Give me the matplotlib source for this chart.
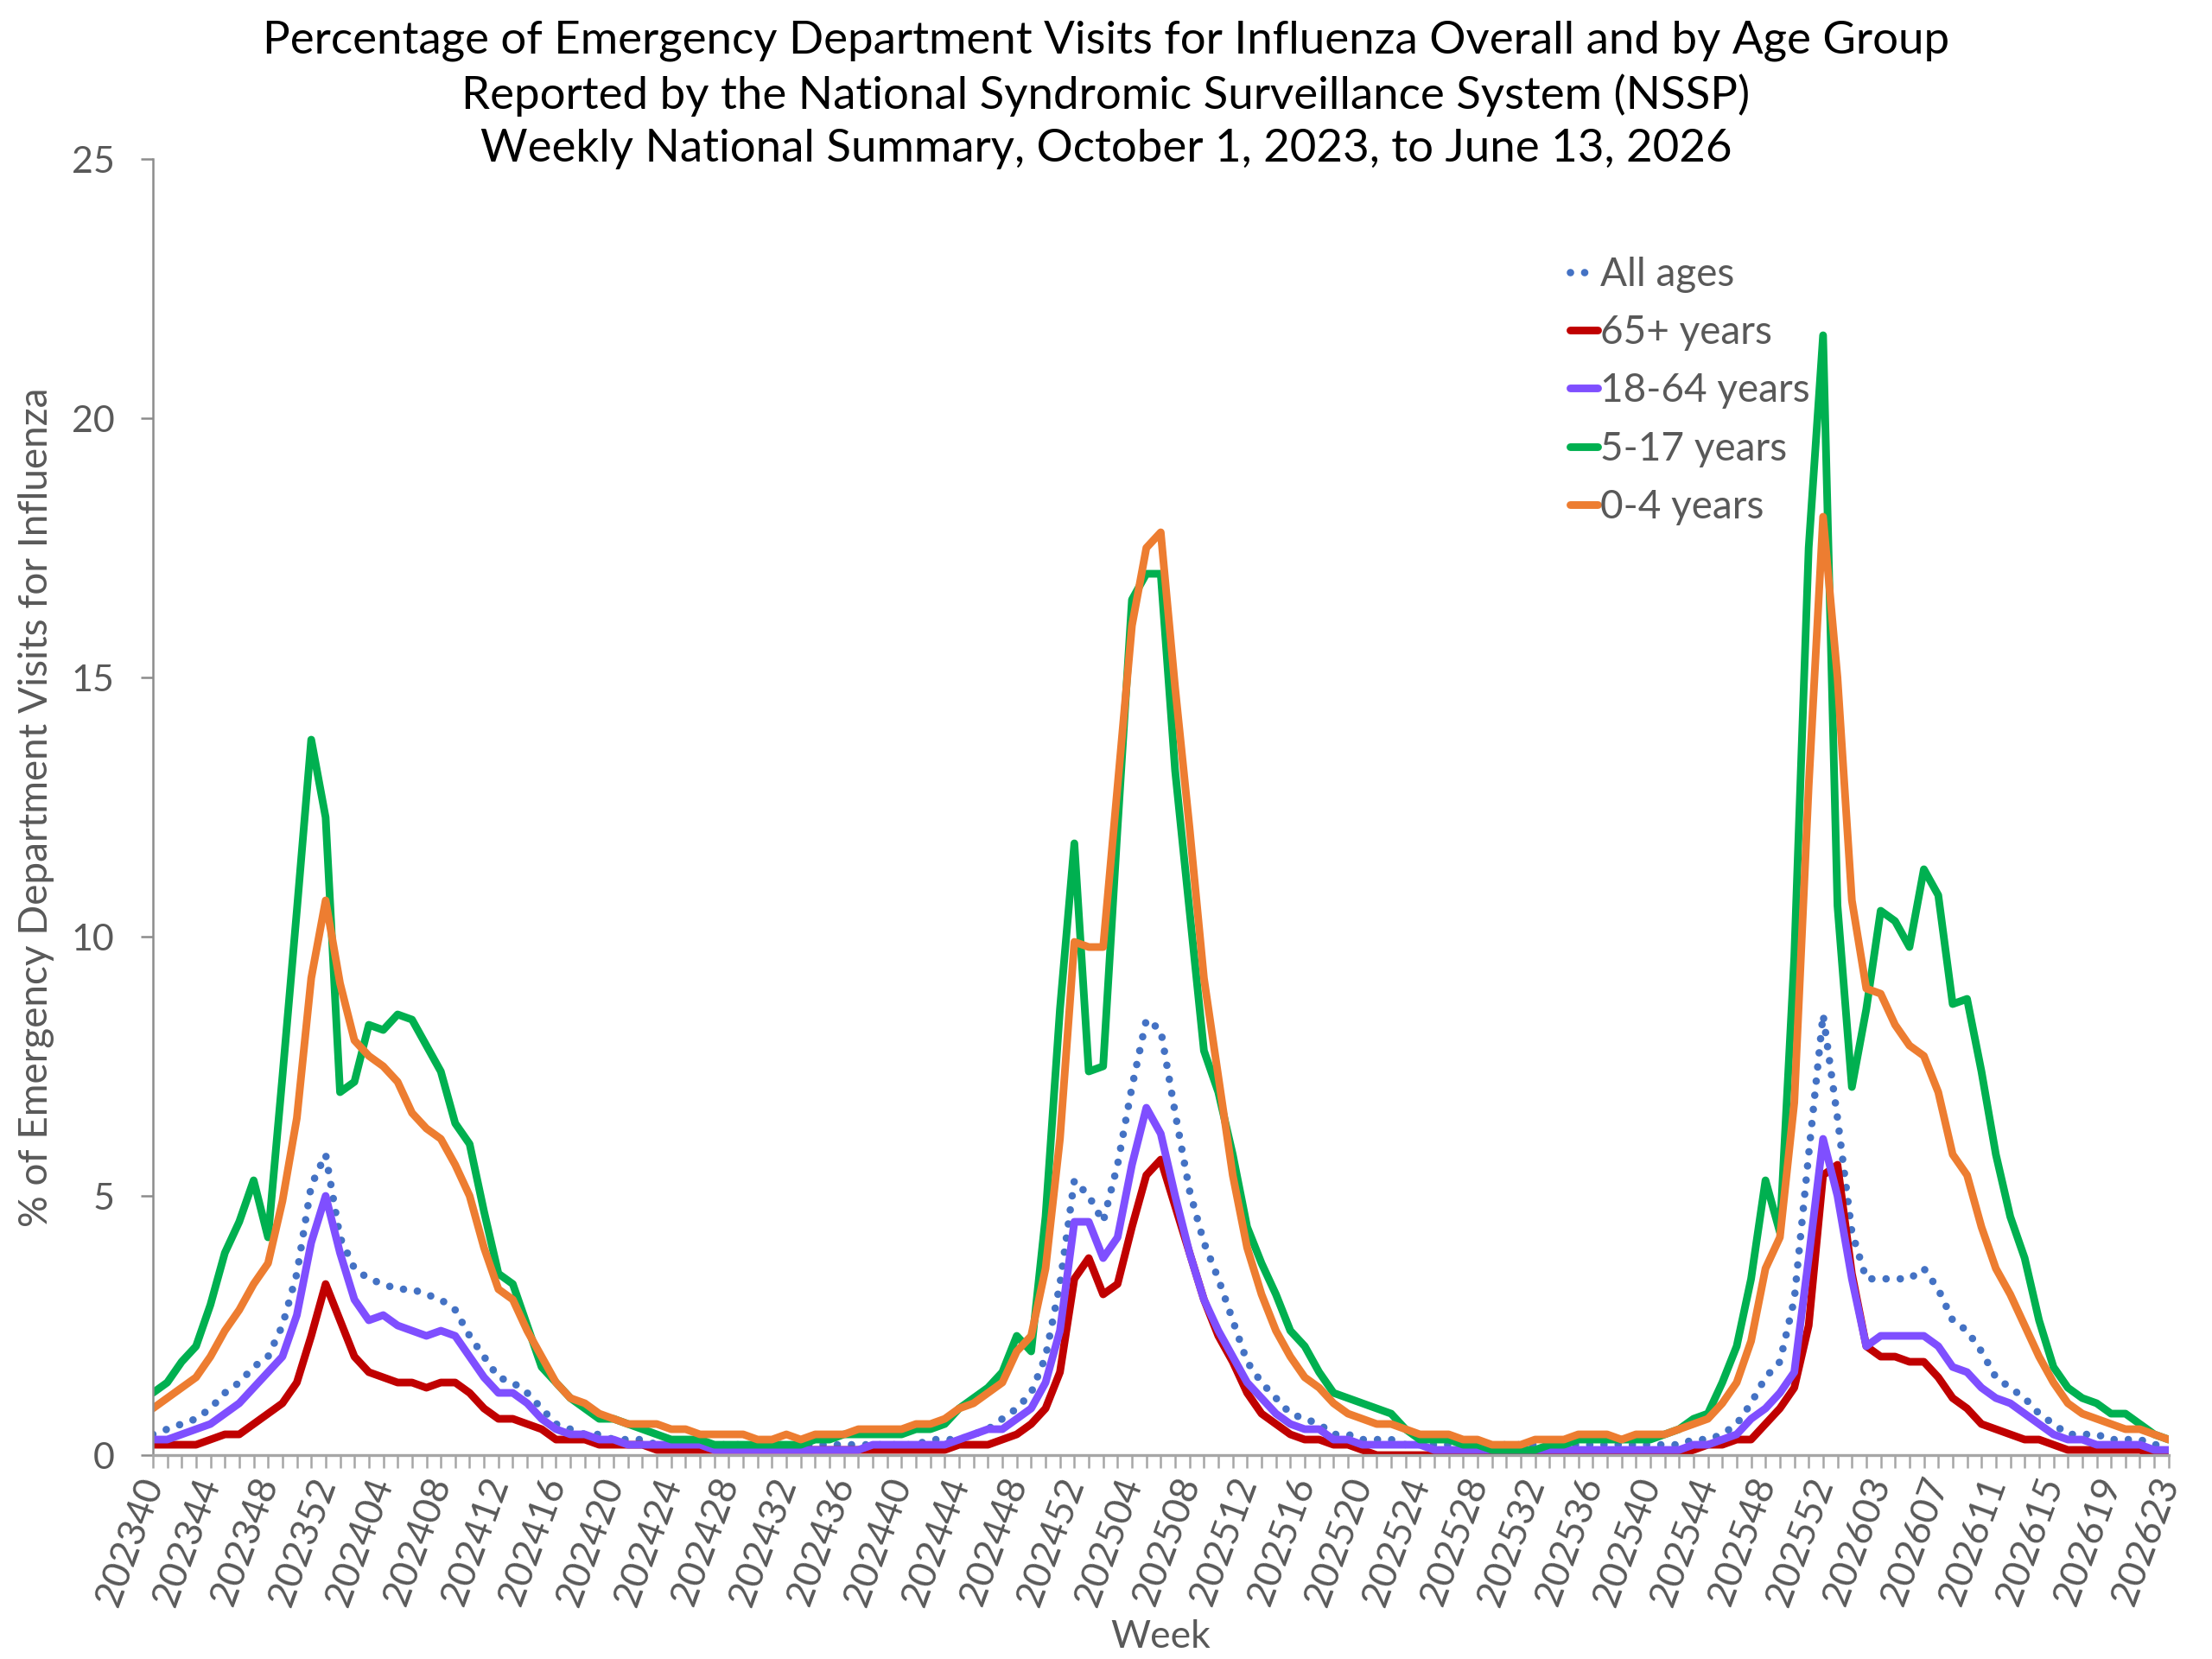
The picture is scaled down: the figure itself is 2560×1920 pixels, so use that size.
import matplotlib
matplotlib.use("Agg")
import matplotlib.pyplot as plt
from matplotlib.ticker import MultipleLocator
import numpy as np

plt.rcParams['font.family'] = ['Lato', 'DejaVu Sans']

# MMWR weeks shown on the category axis (2025 has 53 weeks)
season_years = [2023, 2024, 2025, 2026]
first_week = [40, 1, 1, 1]
last_week = [52, 52, 53, 23]
weeks = [f"{y}{w:02d}" for y, a, b in zip(season_years, first_week, last_week)
         for w in range(a, b + 1)]

all_ages = [0.4, 0.5, 0.6, 0.7, 0.9, 1.2, 1.4, 1.7, 1.9, 2.5, 3.5, 5.2, 5.8,
            4.2, 3.6, 3.4, 3.3, 3.2, 3.2, 3.1, 3.0, 2.8, 2.3, 1.9, 1.5, 1.4, 1.2,
            0.9, 0.6, 0.5, 0.4, 0.4, 0.3, 0.3, 0.3, 0.2, 0.2, 0.2, 0.2, 0.2, 0.2,
            0.2, 0.2, 0.2, 0.2, 0.2, 0.2, 0.2, 0.2, 0.2, 0.2, 0.2, 0.2, 0.2, 0.3,
            0.3, 0.3, 0.4, 0.5, 0.7, 0.9, 1.2, 1.9, 3.3, 5.3,
            5.0, 4.5, 5.6, 7.1, 8.4, 8.2, 6.6, 5.1, 4.1, 3.4, 2.6, 1.8, 1.4, 1.1,
            0.8, 0.7, 0.6, 0.4, 0.4, 0.3, 0.3, 0.3, 0.2, 0.2, 0.2, 0.2, 0.2, 0.2,
            0.2, 0.2, 0.2, 0.2, 0.2, 0.2, 0.2, 0.2, 0.2, 0.2, 0.2, 0.2, 0.2, 0.2,
            0.3, 0.3, 0.4, 0.6, 1.0, 1.5, 1.8, 3.0, 5.8, 8.5, 6.5,
            4.3, 3.4, 3.4, 3.4, 3.4, 3.6, 3.2, 2.6, 2.4, 2.0, 1.5, 1.3, 1.1, 0.8,
            0.6, 0.4, 0.4, 0.4, 0.3, 0.3, 0.3, 0.2, 0.2]

age_65_plus = [0.2, 0.2, 0.2, 0.2, 0.3, 0.4, 0.4, 0.6, 0.8, 1.0, 1.4, 2.3, 3.3,
               2.6, 1.9, 1.6, 1.5, 1.4, 1.4, 1.3, 1.4, 1.4, 1.2, 0.9, 0.7, 0.7,
               0.6, 0.5, 0.3, 0.3, 0.3, 0.2, 0.2, 0.2, 0.2, 0.1, 0.1, 0.1, 0.1,
               0.1, 0.1, 0.1, 0.1, 0.1, 0.1, 0.1, 0.1, 0.1, 0.1, 0.1, 0.1, 0.1,
               0.1, 0.1, 0.1, 0.1, 0.2, 0.2, 0.2, 0.3, 0.4, 0.6, 0.9, 1.6, 3.4,
               3.8, 3.1, 3.3, 4.4, 5.4, 5.7, 4.8, 3.9, 3.0, 2.3, 1.8, 1.2, 0.8,
               0.6, 0.4, 0.3, 0.3, 0.2, 0.2, 0.1, 0.0, 0.0, 0.0, 0.0, 0.0, 0.0,
               0.0, 0.0, 0.0, 0.0, 0.0, 0.0, 0.0, 0.0, 0.0, 0.0, 0.0, 0.0, 0.0,
               0.0, 0.0, 0.0, 0.1, 0.2, 0.2, 0.3, 0.3, 0.6, 0.9, 1.3, 2.5, 5.4,
               5.6,
               3.5, 2.1, 1.9, 1.9, 1.8, 1.8, 1.5, 1.1, 0.9, 0.6, 0.5, 0.4, 0.3,
               0.3, 0.2, 0.1, 0.1, 0.1, 0.1, 0.1, 0.1, 0.0, 0.0]

age_18_64 = [0.3, 0.3, 0.4, 0.5, 0.6, 0.8, 1.0, 1.3, 1.6, 1.9, 2.7, 4.1, 5.0,
             3.9, 3.0, 2.6, 2.7, 2.5, 2.4, 2.3, 2.4, 2.3, 1.9, 1.5, 1.2, 1.2,
             1.0, 0.7, 0.5, 0.4, 0.4, 0.3, 0.3, 0.2, 0.2, 0.2, 0.2, 0.2, 0.2,
             0.1, 0.1, 0.1, 0.1, 0.1, 0.1, 0.1, 0.1, 0.1, 0.1, 0.1, 0.2, 0.2,
             0.2, 0.2, 0.2, 0.2, 0.3, 0.4, 0.5, 0.5, 0.7, 0.9, 1.4, 2.4, 4.5,
             4.5, 3.8, 4.2, 5.6, 6.7, 6.2, 5.0, 3.9, 3.0, 2.4, 1.9, 1.4, 1.1,
             0.8, 0.6, 0.5, 0.5, 0.3, 0.3, 0.2, 0.2, 0.2, 0.2, 0.2, 0.1, 0.1,
             0.1, 0.1, 0.1, 0.1, 0.1, 0.1, 0.1, 0.1, 0.1, 0.1, 0.1, 0.1, 0.1,
             0.1, 0.1, 0.1, 0.2, 0.2, 0.3, 0.4, 0.7, 0.9, 1.2, 1.6, 3.8, 6.1,
             5.0,
             3.4, 2.1, 2.3, 2.3, 2.3, 2.3, 2.1, 1.7, 1.6, 1.3, 1.1, 1.0, 0.8,
             0.6, 0.4, 0.3, 0.3, 0.2, 0.2, 0.2, 0.2, 0.1, 0.1]

age_5_17 = [1.2, 1.4, 1.8, 2.1, 2.9, 3.9, 4.5, 5.3, 4.2, 7.3, 10.5, 13.8, 12.3,
            7.0, 7.2, 8.3, 8.2, 8.5, 8.4, 7.9, 7.4, 6.4, 6.0, 4.7, 3.5, 3.3,
            2.5, 1.7, 1.4, 1.1, 0.9, 0.7, 0.7, 0.6, 0.5, 0.4, 0.3, 0.3, 0.3,
            0.2, 0.2, 0.2, 0.2, 0.2, 0.2, 0.2, 0.3, 0.3, 0.4, 0.4, 0.4, 0.4,
            0.4, 0.5, 0.5, 0.6, 0.9, 1.1, 1.3, 1.6, 2.3, 2.0, 4.6, 8.6, 11.8,
            7.4, 7.5, 12.1, 16.5, 17.0, 17.0, 13.2, 10.5, 7.8, 7.0, 5.8, 4.4,
            3.7, 3.1, 2.4, 2.1, 1.6, 1.2, 1.1, 1.0, 0.9, 0.8, 0.5, 0.3, 0.3,
            0.3, 0.2, 0.2, 0.1, 0.1, 0.1, 0.1, 0.2, 0.2, 0.3, 0.3, 0.3, 0.3,
            0.3, 0.3, 0.4, 0.5, 0.7, 0.8, 1.4, 2.1, 3.4, 5.3, 4.3, 9.6, 17.5,
            21.6, 10.6,
            7.1, 8.6, 10.5, 10.3, 9.8, 11.3, 10.8, 8.7, 8.8, 7.4, 5.8, 4.6,
            3.8, 2.6, 1.7, 1.3, 1.1, 1.0, 0.8, 0.8, 0.6, 0.4, 0.3]

age_0_4 = [0.9, 1.1, 1.3, 1.5, 1.9, 2.4, 2.8, 3.3, 3.7, 4.9, 6.5, 9.2, 10.7,
           9.1, 8.0, 7.7, 7.5, 7.2, 6.6, 6.3, 6.1, 5.6, 5.0, 4.0, 3.2, 3.0,
           2.4, 1.9, 1.4, 1.1, 1.0, 0.8, 0.7, 0.6, 0.6, 0.6, 0.5, 0.5, 0.4,
           0.4, 0.4, 0.4, 0.3, 0.3, 0.4, 0.3, 0.4, 0.4, 0.4, 0.5, 0.5, 0.5,
           0.5, 0.6, 0.6, 0.7, 0.9, 1.0, 1.2, 1.4, 2.0, 2.3, 3.6, 6.1, 9.9,
           9.8, 9.8, 12.9, 16.0, 17.5, 17.8, 14.8, 12.1, 9.2, 7.3, 5.4, 4.0,
           3.1, 2.4, 1.9, 1.5, 1.3, 1.0, 0.8, 0.7, 0.6, 0.6, 0.5, 0.4, 0.4,
           0.4, 0.3, 0.3, 0.2, 0.2, 0.2, 0.3, 0.3, 0.3, 0.4, 0.4, 0.4, 0.3,
           0.4, 0.4, 0.4, 0.5, 0.6, 0.7, 1.0, 1.4, 2.2, 3.6, 4.2, 6.8, 12.9,
           18.1, 15.0,
           10.7, 9.0, 8.9, 8.3, 7.9, 7.7, 7.0, 5.8, 5.4, 4.4, 3.6, 3.1, 2.5,
           1.9, 1.4, 1.0, 0.8, 0.7, 0.6, 0.5, 0.5, 0.4, 0.3]

series = [
    ("All ages", all_ages, "#4472C4"),
    ("65+ years", age_65_plus, "#C00000"),
    ("18-64 years", age_18_64, "#7F4FFF"),
    ("5-17 years", age_5_17, "#00B050"),
    ("0-4 years", age_0_4, "#ED7D31"),
]

grey = "#595959"
fig = plt.figure(figsize=(12.8, 9.6), dpi=200)
ax = fig.add_axes([0.0691, 0.1229, 0.9113, 0.78125])

x = np.arange(len(weeks))
for name, vals, col in series:
    if name == "All ages":
        ax.plot(x, vals, color=col, lw=3.1, linestyle=(0, (0.01, 1.9)),
                dash_capstyle='round', label=name)
    else:
        ax.plot(x, vals, color=col, lw=3.2, solid_joinstyle='round',
                solid_capstyle='round', label=name)

ax.set_xlim(0, len(weeks) - 1)
ax.set_ylim(0, 25)
ax.yaxis.set_major_locator(MultipleLocator(5))
ax.set_xticks(x[::4])
ax.set_xticklabels(weeks[::4], rotation=70, ha='right', va='center',
                   rotation_mode='anchor', fontsize=16, color=grey)
ax.set_xticks(x, minor=True)
ax.tick_params(axis='x', which='both', direction='out', length=5.5,
               color='#A6A6A6', width=0.9, pad=4)
ax.tick_params(axis='y', direction='out', length=5, color='#8C8C8C',
               width=0.9, labelsize=15.5, labelcolor=grey, pad=11)

for s in ['top', 'right']:
    ax.spines[s].set_visible(False)
ax.spines['left'].set_color('#8C8C8C')
ax.spines['left'].set_linewidth(0.9)
ax.spines['bottom'].set_color('#A6A6A6')
ax.spines['bottom'].set_linewidth(1.2)

ax.set_xlabel("Week", fontsize=16, color=grey, labelpad=4)
ax.set_ylabel("% of Emergency Department Visits for Influenza", fontsize=16.5,
              color=grey, labelpad=7)

leg = ax.legend(loc='upper left', bbox_to_anchor=(0.693, 0.94), frameon=False,
                fontsize=16.5, handlelength=0.7, handletextpad=0.08,
                labelspacing=0.55, borderpad=0)
for t in leg.get_texts():
    t.set_color(grey)

fig.text(0.5, 0.988,
         "Percentage of Emergency Department Visits for Influenza Overall and by Age Group\n"
         "Reported by the National Syndromic Surveillance System (NSSP)\n"
         "Weekly National Summary, October 1, 2023, to June 13, 2026",
         ha='center', va='top', fontsize=19, color='black', linespacing=1.36)

fig.savefig("out.png", dpi=200)
